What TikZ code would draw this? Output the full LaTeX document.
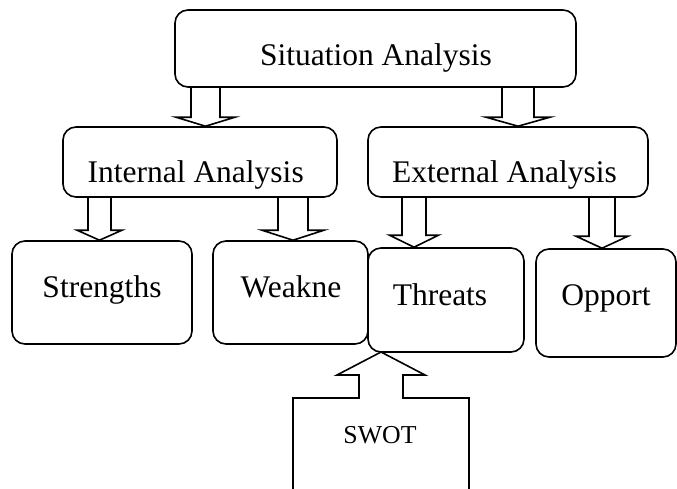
\documentclass[tikz,border=0pt]{standalone}
\usepackage{fontspec}
\setmainfont{Liberation Serif}
\usetikzlibrary{calc}
\tikzset{
  box/.style={draw, line width=1.6pt, rounded corners=13pt, inner sep=0pt},
  lbl/.style={inner sep=0pt, anchor=base, font=\fontsize{31.5}{36}\selectfont},
  small/.style={inner sep=0pt, anchor=base, font=\fontsize{25.8}{30}\selectfont},
  barrow/.style={draw, line width=1.6pt, line join=miter},
}
\newcommand\blockdn[6]{%
  \draw[barrow] let \p1=(#1.south), \p2=(#2.north) in
    ({#3pt-#4pt},\y1) -- ({#3pt-#4pt},\y2+#6pt) -- ({#3pt-#5pt},\y2+#6pt) --
    (#3pt,\y2) -- ({#3pt+#5pt},\y2+#6pt) -- ({#3pt+#4pt},\y2+#6pt) -- ({#3pt+#4pt},\y1);}
\begin{document}
\begin{tikzpicture}[x=1pt,y=-1pt]
\clip (0,0) rectangle (677,488);
\fill[white] (0,0) rectangle (677,488);
% boxes
\node[box, minimum width=401pt, minimum height=77pt] (sit) at (375.5,48.5) {};
\node[box, minimum width=274pt, minimum height=70pt] (int) at (200,162) {};
\node[box, minimum width=280pt, minimum height=70pt] (ext) at (508,162) {};
\node[box, minimum width=180pt, minimum height=103pt] (str) at (102,292.5) {};
\node[box, minimum width=155pt, minimum height=103pt] (weak) at (290.5,292.5) {};
\node[box, minimum width=156pt, minimum height=104pt] (thr) at (446,300) {};
\node[box, minimum width=140pt, minimum height=108pt] (opp) at (606,303) {};
% labels
\node[lbl] (sitlbl) at (376,65) {Situation Analysis};
\node[lbl] (intlbl) at (195.7,182) {Internal Analysis};
\node[lbl] (extlbl) at (504.5,182) {External Analysis};
\node[lbl] (strlbl) at (102,297) {Strengths};
\node[lbl] (weaklbl) at (291,297) {Weakne};
\node[lbl] (thrlbl) at (440,305) {Threats};
\node[lbl] (opplbl) at (606,305) {Opport};
% block arrows
\blockdn{sit}{int}{205.5}{14.5}{29.5}{9}
\blockdn{sit}{ext}{518}{16}{32}{9}
\blockdn{int}{str}{99.5}{11.5}{22.5}{10}
\blockdn{int}{weak}{293}{15}{31}{10}
\blockdn{ext}{thr}{414}{12}{24.5}{12}
\blockdn{ext}{opp}{602}{13}{26}{12}
% SWOT up-arrow callout
\coordinate (swottip) at (381,352);
\draw[barrow] (swottip) -- ++(44,23) -- ++(-22,0) -- ++(0,23) -- ++(66,0) -- ++(0,100);
\draw[barrow] (swottip) -- ++(-44,23) -- ++(22,0) -- ++(0,23) -- ++(-66,0) -- ++(0,100);
\node[small] (swot) at (380,443) {SWOT};
\end{tikzpicture}
\end{document}
